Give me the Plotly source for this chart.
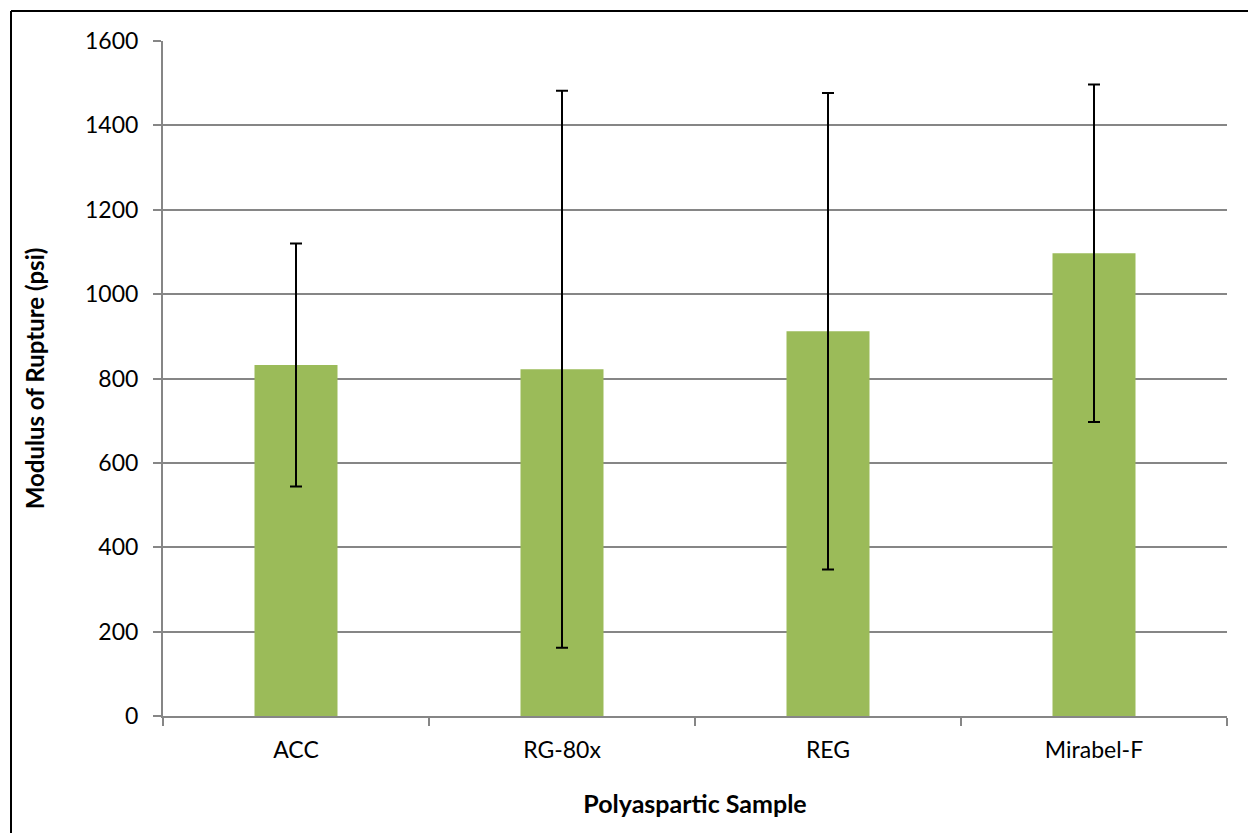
import plotly.graph_objects as go

# Modulus of rupture per polyaspartic sample (mean and ± spread)
samples = ["ACC", "RG-80x", "REG", "Mirabel-F"]
mor_psi = [832, 822, 912, 1097]
mor_err = [288, 660, 565, 400]
y_ticks = [0, 200, 400, 600, 800, 1000, 1200, 1400, 1600]

W, H = 1248, 833
L, R, T, B = 163, 21, 41, 117
pw, ph = W - L - R, H - T - B

grid = "#868686"
font = "Lato, 'Open Sans', sans-serif"

fig = go.Figure(
    go.Bar(
        x=samples,
        y=mor_psi,
        marker=dict(color="#9BBB59", line=dict(width=0)),
        error_y=dict(type="data", array=mor_err, visible=True,
                     color="#000000", thickness=2, width=6),
    )
)

# frame line around the chart (left and top edges visible)
fx = (11 - L) / pw
fy = (H - B - 11) / ph
fig.add_shape(type="line", xref="paper", yref="paper",
              x0=fx, x1=fx, y0=fy, y1=-0.5, line=dict(color="#000000", width=2))
fig.add_shape(type="line", xref="paper", yref="paper",
              x0=fx, x1=1.2, y0=fy, y1=fy, line=dict(color="#000000", width=2))

fig.update_layout(
    width=W, height=H,
    margin=dict(l=L, r=R, t=T, b=B, pad=0),
    paper_bgcolor="white", plot_bgcolor="white",
    bargap=0.688,
    showlegend=False,
    font=dict(family=font, color="#000000", size=23),
    xaxis=dict(
        range=[-0.5, 3.5],
        showline=True, linecolor=grid, linewidth=2,
        ticks="outside", tickson="boundaries", ticklen=8, tickcolor=grid, tickwidth=2,
        showgrid=False, zeroline=False,
        tickfont=dict(size=23, family=font),
        ticklabelstandoff=12,
        title=dict(text="<b>Polyaspartic Sample</b>", font=dict(size=25, family=font), standoff=34),
    ),
    yaxis=dict(
        range=[0, 1600], tickvals=y_ticks,
        showline=True, linecolor=grid, linewidth=2,
        ticks="outside", ticklen=8, tickcolor=grid, tickwidth=2,
        showgrid=True, gridcolor=grid, gridwidth=2,
        zeroline=False,
        tickfont=dict(size=23, family=font),
        ticklabelstandoff=10,
        title=dict(text="<b>Modulus of Rupture (psi)</b>", font=dict(size=24, family=font), standoff=34),
    ),
)

fig.write_html("out.html")
